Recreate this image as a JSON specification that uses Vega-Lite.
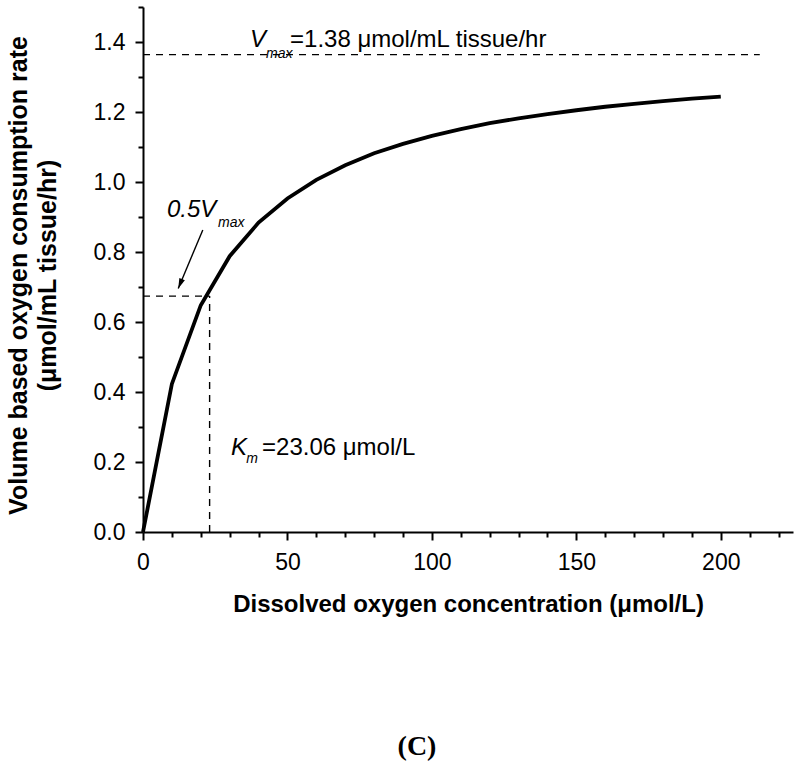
{
  "$schema": "https://vega.github.io/schema/vega-lite/v6.json",
  "width": 650,
  "height": 525,
  "autosize": "none",
  "padding": {"left": 143, "top": 7, "right": 7, "bottom": 239},
  "background": "white",
  "title": {"text": "(C)", "orient": "bottom", "anchor": "middle", "dx": -51, "offset": 117, "font": "Liberation Serif", "fontWeight": "bold", "fontSize": 28, "color": "black"},
  "config": {
    "view": {"stroke": null},
    "axis": {"grid": false, "domainColor": "black", "domainWidth": 2, "tickColor": "black", "tickWidth": 2, "labelColor": "black", "labelFont": "Liberation Sans", "labelFontSize": 23, "titleFont": "Liberation Sans", "titleFontSize": 24, "titleFontWeight": "bold", "titleColor": "black"}
  },
  "datasets": {
    "curve": [
      {"conc": 0, "rate": 0},
      {"conc": 10, "rate": 0.423},
      {"conc": 20, "rate": 0.648},
      {"conc": 30, "rate": 0.788},
      {"conc": 40, "rate": 0.884},
      {"conc": 50, "rate": 0.953},
      {"conc": 60, "rate": 1.006},
      {"conc": 70, "rate": 1.048},
      {"conc": 80, "rate": 1.082},
      {"conc": 90, "rate": 1.109},
      {"conc": 100, "rate": 1.132},
      {"conc": 110, "rate": 1.151},
      {"conc": 120, "rate": 1.168},
      {"conc": 130, "rate": 1.182},
      {"conc": 140, "rate": 1.194},
      {"conc": 150, "rate": 1.205},
      {"conc": 160, "rate": 1.215},
      {"conc": 170, "rate": 1.223},
      {"conc": 180, "rate": 1.231},
      {"conc": 190, "rate": 1.238},
      {"conc": 200, "rate": 1.244}
    ],
    "dashed": [
      {"x": 0, "y": 1.364, "x2": 213.5, "y2": 1.364},
      {"x": 0, "y": 0.674, "x2": 23.06, "y2": 0.674},
      {"x": 23.06, "y": 0, "x2": 23.06, "y2": 0.674}
    ],
    "arrow": [
      {"x": 20.7, "y": 0.863, "x2": 12.2, "y2": 0.696}
    ],
    "bigItalic": [
      {"x": 37.0, "y": 1.386, "label": "V"},
      {"x": 30.5, "y": 0.22, "label": "K"},
      {"x": 8.3, "y": 0.9, "label": "0.5V"}
    ],
    "subItalic": [
      {"x": 42.6, "y": 1.354, "label": "max"},
      {"x": 35.7, "y": 0.197, "label": "m"},
      {"x": 26.0, "y": 0.871, "label": "max"}
    ],
    "plain": [
      {"x": 50.9, "y": 1.386, "label": "=1.38 μmol/mL tissue/hr"},
      {"x": 41.2, "y": 0.22, "label": "=23.06 μmol/L"}
    ]
  },
  "layer": [
    {
      "data": {"name": "curve"},
      "mark": {"type": "line", "color": "black", "strokeWidth": 3.8, "clip": false},
      "encoding": {
        "x": {"field": "conc", "type": "quantitative", "scale": {"domain": [0, 225], "nice": false, "zero": false},
              "axis": {"values": [0, 50, 100, 150, 200], "tickSize": 8, "labelPadding": 11, "title": "Dissolved oxygen concentration (μmol/L)", "titleBaseline": "alphabetic", "titleY": 79, "titleX": 325, "titleAnchor": null, "labelFlush": false}},
        "y": {"field": "rate", "type": "quantitative", "scale": {"domain": [0, 1.5], "nice": false, "zero": false},
              "axis": {"values": [0, 0.2, 0.4, 0.6, 0.8, 1.0, 1.2, 1.4], "format": ".1f", "tickSize": 8, "labelPadding": 10, "title": ["Volume based oxygen consumption rate", "(μmol/mL tissue/hr)"], "titleFontSize": 25, "titleAngle": 270, "titleAlign": "center", "titleBaseline": "alphabetic", "titleX": -117, "titleY": 268, "titleLineHeight": 29, "labelFlush": false}}
      }
    },
    {
      "data": {"name": "dashed"},
      "mark": {"type": "rule", "color": "black", "strokeWidth": 1.4, "strokeDash": [7, 6]},
      "encoding": {
        "x": {"field": "x", "type": "quantitative", "axis": {"values": [10, 20, 30, 40, 60, 70, 80, 90, 110, 120, 130, 140, 160, 170, 180, 190, 210, 220], "tickSize": 5, "labels": false, "domain": false, "title": null, "orient": "bottom"}},
        "x2": {"field": "x2"},
        "y": {"field": "y", "type": "quantitative", "axis": {"values": [0.1, 0.3, 0.5, 0.7, 0.9, 1.1, 1.3, 1.5], "tickSize": 5, "labels": false, "domain": false, "title": null, "orient": "left"}},
        "y2": {"field": "y2"}
      }
    },
    {
      "data": {"name": "arrow"},
      "mark": {"type": "rule", "color": "black", "strokeWidth": 1.4},
      "encoding": {
        "x": {"field": "x", "type": "quantitative", "axis": null},
        "x2": {"field": "x2"},
        "y": {"field": "y", "type": "quantitative", "axis": null},
        "y2": {"field": "y2"}
      }
    },
    {
      "data": {"name": "arrow"},
      "mark": {"type": "point", "shape": "M0,0L-0.6,-2L0.6,-2Z", "filled": true, "color": "black", "opacity": 1, "size": 100, "angle": 22.7},
      "encoding": {
        "x": {"field": "x2", "type": "quantitative", "axis": null},
        "y": {"field": "y2", "type": "quantitative", "axis": null}
      }
    },
    {
      "data": {"name": "bigItalic"},
      "mark": {"type": "text", "align": "left", "baseline": "alphabetic", "font": "Liberation Sans", "fontSize": 24, "fontStyle": "italic", "color": "black"},
      "encoding": {
        "x": {"field": "x", "type": "quantitative", "axis": null},
        "y": {"field": "y", "type": "quantitative", "axis": null},
        "text": {"field": "label"}
      }
    },
    {
      "data": {"name": "subItalic"},
      "mark": {"type": "text", "align": "left", "baseline": "alphabetic", "font": "Liberation Sans", "fontSize": 14, "fontStyle": "italic", "color": "black"},
      "encoding": {
        "x": {"field": "x", "type": "quantitative", "axis": null},
        "y": {"field": "y", "type": "quantitative", "axis": null},
        "text": {"field": "label"}
      }
    },
    {
      "data": {"name": "plain"},
      "mark": {"type": "text", "align": "left", "baseline": "alphabetic", "font": "Liberation Sans", "fontSize": 24, "color": "black"},
      "encoding": {
        "x": {"field": "x", "type": "quantitative", "axis": null},
        "y": {"field": "y", "type": "quantitative", "axis": null},
        "text": {"field": "label"}
      }
    }
  ],
  "resolve": {"axis": {"x": "independent", "y": "independent"}}
}
